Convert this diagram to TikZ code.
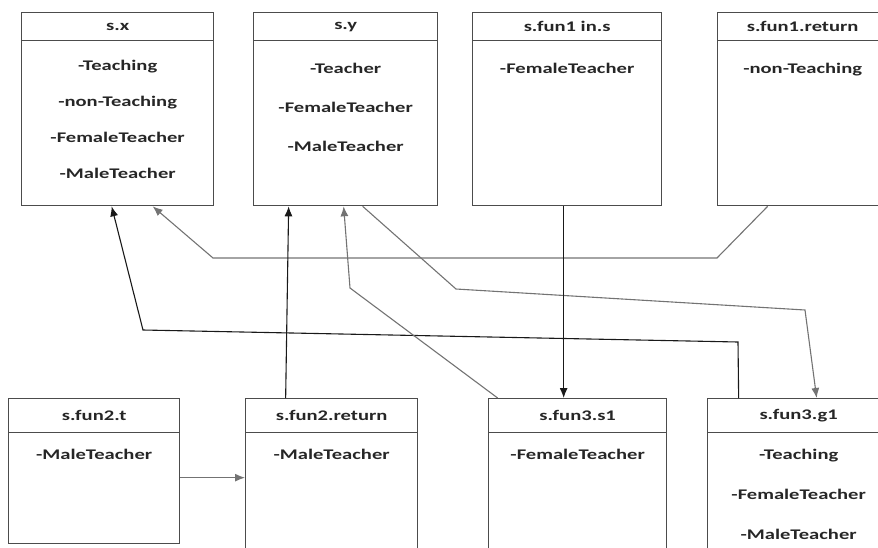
\documentclass[tikz,border=0pt]{standalone}
\usepackage{fontspec}
\newfontfamily\boxfont[FakeStretch=1.4]{Carlito}
\usetikzlibrary{arrows.meta, positioning, calc}

\begin{document}
\begin{tikzpicture}[
    x=1pt, y=-1pt,
    box/.style={rectangle, draw=black!70, line width=1.3pt, anchor=north west, minimum width=#1, inner sep=0pt},
    tall/.style={minimum height=193pt},
    short/.style={minimum height=160pt},
    head/.style={rectangle, draw=black!70, line width=1.3pt, anchor=north, minimum width=#1, inner sep=0pt, text=black!85, font=\boxfont\bfseries\fontsize{14.7}{17}\selectfont},
    body/.style={anchor=north, align=center, inner sep=0pt, text=black!85, font=\boxfont\bfseries\fontsize{14.7}{#1}\selectfont},
    arrow/.style={-{Latex[length=10pt,width=8pt]}, line width=1.1pt, black!90},
    faint/.style={black!55}
]
\useasboundingbox (0,0) rectangle (878,547);
\clip (0,0) rectangle (878,547);

% upper row
\node[box=192pt, tall] (sx) at (21,12) {};
\node[head=192pt, minimum height=28pt] (sxh) at (sx.north) {s.x};
\node[body=36] (sxb) at ([yshift=-18.5pt]sxh.south) {-Teaching\\-non-Teaching\\-FemaleTeacher\\-MaleTeacher};

\node[box=184pt, tall] (sy) at (253,12) {};
\node[head=184pt, minimum height=28pt] (syh) at (sy.north) {s.y};
\node[body=39] (syb) at ([yshift=-22pt]syh.south) {-Teacher\\-FemaleTeacher\\-MaleTeacher};

\node[box=189pt, tall] (funin) at (472,12) {};
\node[head=189pt, minimum height=28pt] (funinh) at (funin.north) {s.fun1 in.s};
\node[body=39] (funinb) at ([yshift=-22pt]funinh.south) {-FemaleTeacher};

\node[box=170pt, tall] (funret) at (717,12) {};
\node[head=170pt, minimum height=28pt] (funreth) at (funret.north) {s.fun1.return};
\node[body=39] (funretb) at ([yshift=-22pt]funreth.south) {-non-Teaching};

% lower row
\node[box=171pt, minimum height=145pt] (funt) at (8,398) {};
\node[head=171pt, minimum height=34pt] (funth) at (funt.north) {s.fun2.t};
\node[body=40] (funtb) at ([yshift=-16pt]funth.south) {-MaleTeacher};

\node[box=172pt, short] (tret) at (245,398) {};
\node[head=172pt, minimum height=34pt] (treth) at (tret.north) {s.fun2.return};
\node[body=40] (tretb) at ([yshift=-16pt]treth.south) {-MaleTeacher};

\node[box=178pt, short] (sone) at (488,398) {};
\node[head=178pt, minimum height=34pt] (soneh) at (sone.north) {s.fun3.s1};
\node[body=40] (soneb) at ([yshift=-16pt]soneh.south) {-FemaleTeacher};

\node[box=182pt, short] (gone) at (707,398) {};
\node[head=182pt, minimum height=34pt] (goneh) at (gone.north) {s.fun3.g1};
\node[body=40] (goneb) at ([yshift=-16pt]goneh.south) {-Teaching\\-FemaleTeacher\\-MaleTeacher};

% connectors
\draw[arrow, faint] ([xshift=-35pt]funret.south) -- (717,258) -- (213,258) -- ([xshift=35pt]sx.south);
\draw[arrow] ([xshift=-60pt]gone.north) -- (738,342) -- (143,330) -- ([xshift=-6pt]sx.south);
\draw[arrow] ([xshift=-46pt]tret.north) -- ([xshift=-57pt]sy.south);
\draw[arrow, faint] ([xshift=-80pt]sone.north) -- (350,288) -- ([xshift=-2pt]sy.south);
\draw[arrow, faint] ([xshift=17pt]sy.south) -- (456,289) -- (805,310) -- ([xshift=18pt]gone.north);
\draw[arrow] ([xshift=-3.5pt]funin.south) -- ([xshift=-14pt]sone.north);
\draw[arrow, faint] ([yshift=-6.5pt]funt.east) coordinate (tstart) -- (tstart -| tret.west);

\end{tikzpicture}
\end{document}
